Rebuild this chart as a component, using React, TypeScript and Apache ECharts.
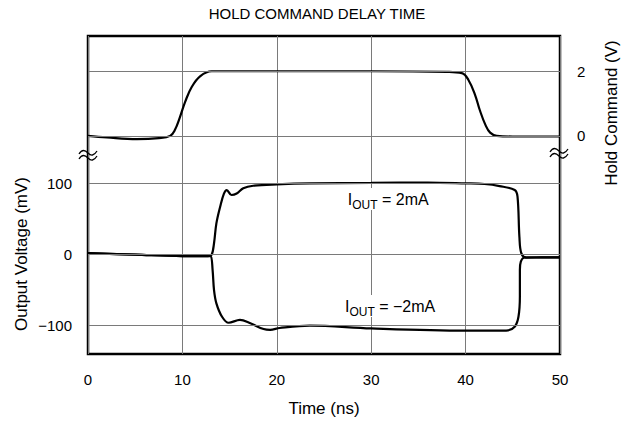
import React, { useEffect, useRef } from 'react';
import * as echarts from 'echarts';

const titleText = 'HOLD COMMAND DELAY TIME';
const xName = 'Time (ns)';
const leftName = 'Output Voltage (mV)';
const rightName = 'Hold Command (V)';
const mvTicks = [-100, 0, 100];
const vTicks = [0, 2];

// Hold command (V) vs time (ns)
const holdT = [0, 2, 5.2, 7.5, 8.7, 9.2, 9.75, 10.3, 11, 11.9, 13.1, 20, 30, 38, 39.6, 40.3, 41, 41.5, 42.1, 42.6, 43.3, 45, 50];
const holdV = [0, -0.05, -0.1, -0.07, 0, 0.18, 0.59, 1.06, 1.52, 1.85, 2.0, 2.0, 2.0, 1.98, 1.94, 1.73, 1.27, 0.8, 0.34, 0.1, 0, -0.02, -0.02];

// Output voltage (mV), IOUT = 2mA
const posT = [0, 5, 10, 12.7, 13.1, 13.35, 13.6, 14, 14.4, 14.7, 15.2, 15.75, 16.45, 17.5, 20, 23.5, 30, 36, 40, 42, 43.6, 45.2, 45.5, 45.7, 45.9, 46.4, 48, 50];
const posMv = [2, 0, -2, -2, 0, 16, 44, 67.5, 86, 91, 84, 86, 93.4, 97, 99, 100.4, 101, 101.5, 100.4, 99.5, 96.6, 91, 81.6, 25, 2, -3.8, -4, -3.8];

// Output voltage (mV), IOUT = -2mA
const negT = [0, 5, 10, 12.7, 13.0, 13.2, 13.35, 13.6, 14.2, 14.9, 16.1, 17.2, 18.6, 19.3, 20.3, 23.5, 30, 40, 44.3, 45.2, 45.6, 45.75, 45.75, 45.85, 46.2, 48, 50];
const negMv = [2, 0, -2, -2, -2, -21.7, -50, -68.6, -87.5, -96, -92, -96.8, -104.8, -106, -103.4, -100, -104, -107, -107, -101.5, -87.5, -59, -21.7, -10, -4.4, -4, -3.8];

// annotations
const annT = [31.8, 32];
const annMv = [78.5, -72.3];
const annText = ['{i|I}{s|OUT}{i| = 2mA}', '{i|I}{s|OUT}{i| = \u22122mA}'];

const FONT = 'Liberation Sans, Arial, Helvetica, sans-serif';
const zip = (a: number[], b: number[]) => a.map((v, i) => [v, b[i]]);

let registered = false;
function ensureShapes() {
  if (registered) return;
  registered = true;
  const d = 'M0 5 C3 0 6 1 9 4 C12 7 15 7 18 2 M0 10 C3 5 6 6 9 9 C12 12 15 12 18 7';
  echarts.graphic.registerShape('brk', echarts.graphic.extendPath(d, {}) as any);
}

export default function App() {
  const ref = useRef<HTMLDivElement>(null);
  useEffect(() => {
    if (!ref.current) return;
    ensureShapes();
    const chart = echarts.init(ref.current, undefined, { renderer: 'svg' });
    const gridLine = { color: '#7a7a7a', width: 1, type: 'solid' as const };
    const richLabel = {
      i: { fontSize: 16, lineHeight: 16, fontFamily: FONT, color: '#000' },
      s: { fontSize: 12, lineHeight: 12, fontFamily: FONT, color: '#000', padding: [10, 0, 0, 0] },
    };
    chart.setOption({
      animation: false,
      backgroundColor: '#fff',
      title: {
        text: titleText,
        left: 'center',
        top: 6,
        padding: 0,
        textStyle: { fontFamily: FONT, fontSize: 15, fontWeight: 'normal', color: '#000' },
      },
      grid: { left: 88, right: 74, top: 36, bottom: 72, show: true, borderColor: '#000', borderWidth: 2.5, backgroundColor: 'transparent' },
      xAxis: {
        type: 'value',
        min: 0,
        max: 50,
        interval: 10,
        name: xName,
        nameLocation: 'middle',
        nameGap: 46,
        nameTextStyle: { fontFamily: FONT, fontSize: 17, color: '#000' },
        axisLine: { show: false },
        axisTick: { show: false },
        axisLabel: { margin: 18, fontFamily: FONT, fontSize: 15, color: '#000' },
        splitLine: { show: true, lineStyle: gridLine },
      },
      yAxis: [
        {
          type: 'value',
          min: -140,
          max: 308,
          interval: 20,
          position: 'left',
          axisLine: { show: false },
          axisTick: { show: false },
          splitLine: { show: false },
          axisLabel: {
            margin: 16,
            fontFamily: FONT,
            fontSize: 15,
            color: '#000',
            showMaxLabel: false,
            formatter: (v: number) => (mvTicks.includes(Math.round(v)) && Math.abs(v - Math.round(v)) < 1e-6 ? (v < 0 ? '\u2212' + Math.abs(Math.round(v)) : String(Math.round(v))) : ''),
          },
        },
        {
          type: 'value',
          min: -6.75,
          max: 3.09,
          interval: 0.25,
          position: 'right',
          axisLine: { show: false },
          axisTick: { show: false },
          splitLine: { show: false },
          axisLabel: {
            margin: 17,
            fontFamily: FONT,
            fontSize: 15,
            color: '#000',
            showMaxLabel: false,
            formatter: (v: number) => {
              const t = vTicks.find((k) => Math.abs(k - v) < 1e-6);
              return t === undefined ? '' : String(t);
            },
          },
        },
      ],
      series: [
        {
          type: 'line',
          yAxisIndex: 1,
          data: zip(holdT, holdV),
          showSymbol: false,
          smooth: 0.4,
          lineStyle: { color: '#000', width: 2.2 },
          markLine: {
            silent: true,
            symbol: 'none',
            label: { show: false },
            lineStyle: gridLine,
            data: vTicks.map((v) => ({ yAxis: v })),
          },
          z: 3,
        },
        {
          type: 'line',
          yAxisIndex: 0,
          data: zip(posT, posMv),
          showSymbol: false,
          smooth: 0.35,
          lineStyle: { color: '#000', width: 2.2 },
          markLine: {
            silent: true,
            symbol: 'none',
            label: { show: false },
            lineStyle: gridLine,
            data: mvTicks.map((v) => ({ yAxis: v })),
          },
          markPoint: {
            silent: true,
            symbol: 'circle',
            symbolSize: 1,
            itemStyle: { color: 'rgba(0,0,0,0)' },
            label: {
              show: true,
              position: 'inside',
              backgroundColor: '#fff',
              padding: [4, 3, 2, 3],
              rich: richLabel,
              formatter: (p: any) => annText[p.dataIndex],
            },
            data: annT.map((t, i) => ({ coord: [t, annMv[i]], value: annMv[i] })),
          },
          z: 4,
        },
        {
          type: 'line',
          yAxisIndex: 0,
          data: zip(negT, negMv),
          showSymbol: false,
          smooth: 0.35,
          lineStyle: { color: '#000', width: 2.2 },
          z: 3,
        },
      ],
      graphic: [
        {
          type: 'text',
          x: 21,
          y: 254,
          rotation: Math.PI / 2,
          style: { text: leftName, fontFamily: FONT, fontSize: 17, fill: '#000', align: 'center', verticalAlign: 'middle', textAlign: 'center', textVerticalAlign: 'middle' },
        },
        {
          type: 'text',
          x: 611,
          y: 113,
          rotation: Math.PI / 2,
          style: { text: rightName, fontFamily: FONT, fontSize: 17, fill: '#000', align: 'center', verticalAlign: 'middle', textAlign: 'center', textVerticalAlign: 'middle' },
        },
        { type: 'brk', x: 79, y: 149, z: 100, style: { fill: 'none', stroke: '#000', lineWidth: 1.3 } },
        { type: 'brk', x: 550, y: 147, z: 100, style: { fill: 'none', stroke: '#000', lineWidth: 1.3 } },
      ],
    });
    return () => chart.dispose();
  }, []);
  return <div ref={ref} style={{ position: 'fixed', left: 0, top: 0, width: 634, height: 426 }} />;
}
